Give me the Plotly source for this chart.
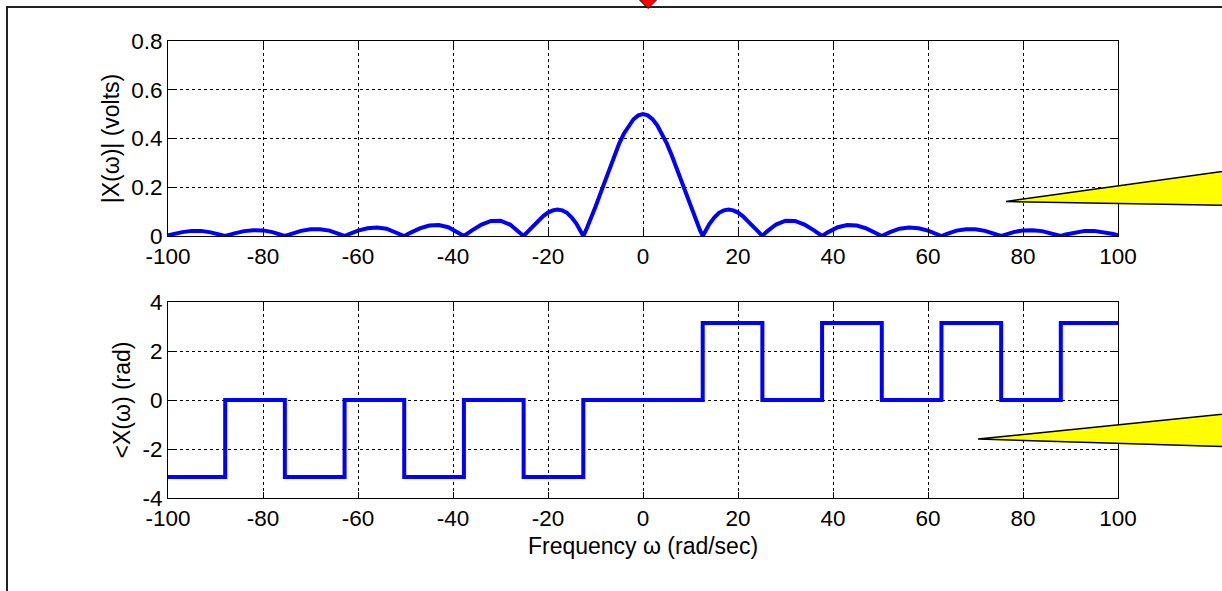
import plotly.graph_objects as go

# ---------------- data ----------------
# magnitude |X(w)| for w >= 0 (curve is symmetric about w = 0)
w_pos = [0, 1, 2, 3, 4, 5, 6, 7, 8, 9, 10, 11, 12, 12.57,
         13, 14, 15, 16, 17, 18, 19, 20, 21, 22, 23, 24, 25.13,
         26, 28, 30, 32, 34, 36, 37.70,
         39, 41, 43, 45, 47, 49, 50.27,
         52, 54, 56, 58, 60, 62, 62.83,
         64, 66, 68, 70, 72, 74, 75.40,
         76, 78, 80, 82, 84, 86, 87.96,
         89, 91, 93, 95, 97, 99, 100]
mag_pos = [0.500, 0.495, 0.479, 0.454, 0.421, 0.380, 0.333, 0.281, 0.227, 0.173, 0.120, 0.069, 0.024, 0.0,
           0.017, 0.050, 0.076, 0.095, 0.105, 0.109, 0.105, 0.096, 0.082, 0.064, 0.044, 0.023, 0.0,
           0.017, 0.047, 0.063, 0.062, 0.047, 0.023, 0.0,
           0.016, 0.036, 0.045, 0.043, 0.031, 0.013, 0.0,
           0.016, 0.030, 0.035, 0.032, 0.022, 0.007, 0.0,
           0.009, 0.022, 0.028, 0.028, 0.021, 0.009, 0.0,
           0.004, 0.016, 0.023, 0.024, 0.020, 0.011, 0.0,
           0.006, 0.015, 0.021, 0.021, 0.016, 0.008, 0.003]

# phase <X(w): piecewise constant, value holds from each breakpoint to the next
phase_w = [-100, -87.96, -75.40, -62.83, -50.27, -37.70, -25.13, -12.57,
           12.57, 25.13, 37.70, 50.27, 62.83, 75.40, 87.96, 100]
phase_val = [-3.1416, 0, -3.1416, 0, -3.1416, 0, -3.1416, 0,
             3.1416, 0, 3.1416, 0, 3.1416, 0, 3.1416, 3.1416]

x_ticks = [-100, -80, -60, -40, -20, 0, 20, 40, 60, 80, 100]
x_ticktext = ["-100", "-80", "-60", "-40", "-20", "0", "20", "40", "60", "80", "100"]
mag_ticks = [0, 0.2, 0.4, 0.6, 0.8]
mag_ticktext = ["0", "0.2", "0.4", "0.6", "0.8"]
phase_ticks = [-4, -2, 0, 2, 4]
phase_ticktext = ["-4", "-2", "0", "2", "4"]

# build symmetric magnitude curve
w_all = [-w for w in reversed(w_pos[1:])] + w_pos
mag_all = list(reversed(mag_pos[1:])) + mag_pos

# ---------------- figure ----------------
W, H = 1222, 591
ML, MR, MT, MB = 168, 104, 41, 93
PW, PH = W - ML - MR, H - MT - MB

def px(x):
    return (x - ML) / PW

def py(y):
    return (H - MB - y) / PH

FONT = "Arial, 'Liberation Sans', sans-serif"
BLUE = "#0000FF"
TICK_SIZE = 22.5
TITLE_SIZE = 23

fig = go.Figure()
fig.add_trace(go.Scatter(x=w_all, y=mag_all, mode="lines",
                         line=dict(color=BLUE, width=4),
                         xaxis="x", yaxis="y", showlegend=False))
fig.add_trace(go.Scatter(x=phase_w, y=phase_val, mode="lines",
                         line=dict(color=BLUE, width=4, shape="hv"),
                         xaxis="x2", yaxis="y2", showlegend=False))

axis_common = dict(
    showline=True, linecolor="black", linewidth=1, mirror="ticks",
    ticks="inside", ticklen=6, tickcolor="black",
    showgrid=True, gridcolor="black", gridwidth=1, griddash="3px,3px",
    zeroline=False, tickfont=dict(family=FONT, size=TICK_SIZE, color="black"),
)

top_bottom = (H - MB - 236) / PH
bot_top = (H - MB - 302) / PH

fig.update_layout(
    width=W, height=H,
    margin=dict(l=ML, r=MR, t=MT, b=MB),
    paper_bgcolor="white", plot_bgcolor="white",
    font=dict(family=FONT, size=TICK_SIZE, color="black"),
    xaxis=dict(axis_common, domain=[0, 1], range=[-100, 100],
               tickvals=x_ticks, ticktext=x_ticktext, anchor="y"),
    yaxis=dict(axis_common, domain=[top_bottom, 1], range=[0, 0.8],
               tickvals=mag_ticks, ticktext=mag_ticktext, anchor="x",
               title=dict(text="|X(\u03c9)| (volts)",
                          font=dict(family=FONT, size=TITLE_SIZE), standoff=5)),
    xaxis2=dict(axis_common, domain=[0, 1], range=[-100, 100],
                tickvals=x_ticks, ticktext=x_ticktext, anchor="y2",
                title=dict(text="Frequency \u03c9 (rad/sec)",
                           font=dict(family=FONT, size=TITLE_SIZE), standoff=7)),
    yaxis2=dict(axis_common, domain=[0, bot_top], range=[-4, 4],
                tickvals=phase_ticks, ticktext=phase_ticktext, anchor="x2",
                title=dict(text="<X(\u03c9) (rad)",
                           font=dict(family=FONT, size=TITLE_SIZE), standoff=5)),
)

# ---------------- slide decorations ----------------
def poly(points):
    return "M " + " L ".join(f"{px(a):.5f},{py(b):.5f}" for a, b in points) + " Z"

shapes = []
# slide frame (top and left edges)
shapes.append(dict(type="path", xref="paper", yref="paper",
                   path=f"M {px(1230):.5f},{py(7):.5f} L {px(7):.5f},{py(7):.5f} L {px(7):.5f},{py(600):.5f}",
                   line=dict(color="#222222", width=2)))
# red diamond at top centre
shapes.append(dict(type="path", xref="paper", yref="paper",
                   path=poly([(648, -12), (658, -1.5), (648, 8.5), (638, -1.5)]),
                   fillcolor="#FF0000", line=dict(color="black", width=1)))
# yellow callout pointers
shapes.append(dict(type="path", xref="paper", yref="paper",
                   path=poly([(1006, 201.5), (1240, 169), (1240, 205.5)]),
                   fillcolor="#FFFF00", line=dict(color="black", width=1.5)))
shapes.append(dict(type="path", xref="paper", yref="paper",
                   path=poly([(978, 439), (1240, 412.5), (1240, 447)]),
                   fillcolor="#FFFF00", line=dict(color="black", width=1.5)))
fig.update_layout(shapes=shapes)

fig.write_html("out.html", config={"displayModeBar": False},
               post_script="document.body.style.margin='0';")
